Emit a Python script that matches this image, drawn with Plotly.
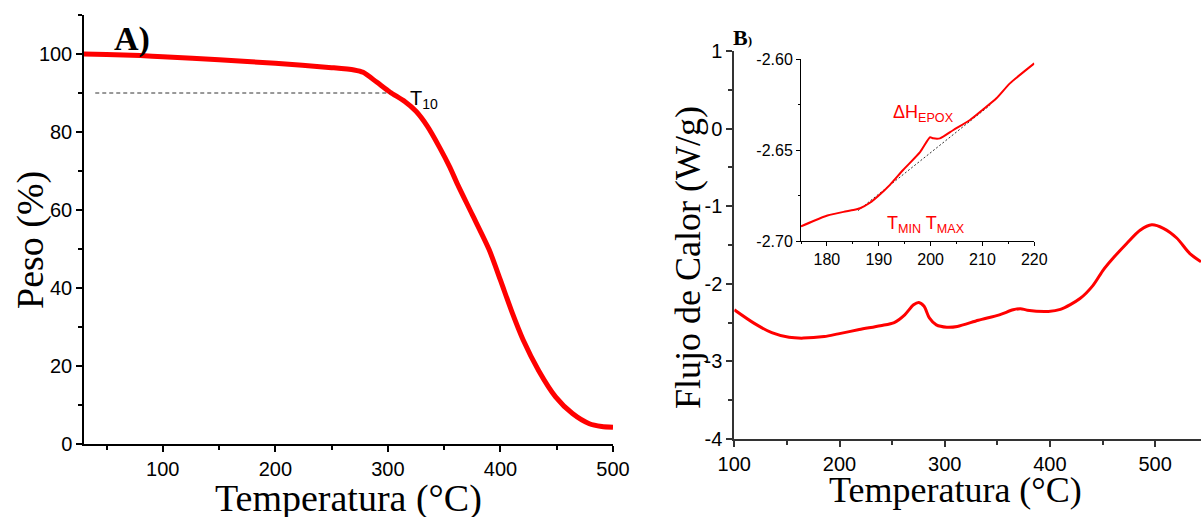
import plotly.graph_objects as go

# --- A) TGA: weight vs temperature
tga_temp = [30, 50, 80, 100, 150, 200, 250, 270, 278, 290, 302, 315, 325, 335,
            346, 355, 362, 375, 390, 400, 410, 420, 434, 449, 464, 479, 490, 500]
tga_peso = [100, 99.9, 99.6, 99.3, 98.5, 97.6, 96.5, 95.9, 95.3, 92.8, 90.2, 87.8,
            85.3, 81.5, 76.0, 71.0, 66.5, 58.8, 49.8, 42.0, 34.0, 26.8, 18.8, 12.1,
            7.8, 5.2, 4.5, 4.3]
t10_temp = [40, 302]
t10_peso = [90, 90]

# --- B) DSC: heat flow vs temperature
dsc_temp = [100, 119, 135.6, 152, 165.5, 185.5, 198.8, 218.8, 238.8, 252, 262,
            270.4, 275.4, 280.4, 285.4, 292, 302, 312, 332, 352, 365, 372, 378.5,
            398.5, 410, 428.6, 441, 450.8, 458.7, 473, 485.7, 496.8, 507.8, 520.5,
            533, 543.6]
dsc_flujo = [-2.335, -2.51, -2.63, -2.69, -2.70, -2.68, -2.645, -2.59, -2.54, -2.50,
             -2.40, -2.27, -2.24, -2.29, -2.44, -2.53, -2.56, -2.55, -2.47, -2.40,
             -2.335, -2.32, -2.34, -2.356, -2.33, -2.19, -2.02, -1.82, -1.69, -1.48,
             -1.31, -1.24, -1.285, -1.41, -1.61, -1.715]
dsc_yticks = [-4, -3, -2, -1, 0, 1]
dsc_yticktext = ["-4", "-3", "-2", "-1", "0", "1"]

# --- inset (zoom of the epoxy peak)
ins_temp = [175, 177.4, 180.1, 183.2, 185.1, 186.4, 188.3, 190, 192.2, 194.7, 198,
            199.9, 200.5, 201.8, 204.4, 207.6, 210, 212.7, 215.3, 220]
ins_flujo = [-2.692, -2.689, -2.686, -2.684, -2.683, -2.682, -2.679, -2.675, -2.669,
             -2.661, -2.651, -2.643, -2.6436, -2.6436, -2.639, -2.6335, -2.628,
             -2.6216, -2.6134, -2.6024]
base_temp = [186, 211.5]
base_flujo = [-2.6833, -2.6253]
ins_yticks = [-2.70, -2.65, -2.60]
ins_yticktext = ["-2.70", "-2.65", "-2.60"]

W, H = 1201, 517
SANS = "Liberation Sans, Arial"
SERIF = "Liberation Serif, Times New Roman"


def px_x(p):
    return p / W


def px_y(p):
    return (H - p) / H


fig = go.Figure()

fig.add_trace(go.Scatter(x=tga_temp, y=tga_peso, mode="lines", line_shape="spline",
                         line=dict(color="#ff0000", width=5, smoothing=0.7),
                         xaxis="x", yaxis="y"))
fig.add_trace(go.Scatter(x=t10_temp, y=t10_peso, mode="lines",
                         line=dict(color="#333333", width=1, dash="4px,3px"),
                         xaxis="x", yaxis="y"))

fig.add_trace(go.Scatter(x=dsc_temp, y=dsc_flujo, mode="lines", line_shape="spline",
                         line=dict(color="#ff0000", width=3, smoothing=0.8),
                         xaxis="x2", yaxis="y2"))

fig.add_trace(go.Scatter(x=base_temp, y=base_flujo, mode="lines",
                         line=dict(color="#333333", width=1, dash="2px,2px"),
                         xaxis="x3", yaxis="y3"))
fig.add_trace(go.Scatter(x=ins_temp, y=ins_flujo, mode="lines", line_shape="spline",
                         line=dict(color="#ff0000", width=2, smoothing=0.6),
                         xaxis="x3", yaxis="y3"))

axis_common = dict(showgrid=False, zeroline=False, showline=True, ticks="outside",
                   mirror=False, automargin=False)

fig.update_layout(
    width=W, height=H,
    margin=dict(l=0, r=0, t=0, b=0, autoexpand=False),
    paper_bgcolor="white", plot_bgcolor="rgba(0,0,0,0)",
    showlegend=False,
    xaxis=dict(axis_common, domain=[px_x(84), px_x(613)], anchor="y",
               range=[30, 500], tick0=0, dtick=100, linecolor="black", linewidth=1.5,
               tickcolor="black", ticklen=6, tickwidth=1.5,
               tickfont=dict(family=SANS, size=20, color="black"),
               minor=dict(dtick=50, tick0=0, ticks="outside", ticklen=4,
                          tickcolor="black", tickwidth=1.5)),
    yaxis=dict(axis_common, domain=[px_y(444), px_y(15)], anchor="x",
               range=[0, 110], tick0=0, dtick=20, linecolor="black", linewidth=1.5,
               tickcolor="black", ticklen=6, tickwidth=1.5,
               tickfont=dict(family=SANS, size=20, color="black"),
               minor=dict(dtick=10, tick0=0, ticks="outside", ticklen=4,
                          tickcolor="black", tickwidth=1.5)),
    xaxis2=dict(axis_common, domain=[px_x(734.3), 1.0], anchor="y2",
                range=[100, 543.6], tick0=0, dtick=100, linecolor="#333333",
                linewidth=2, tickcolor="#333333", ticklen=6, tickwidth=1.5,
                tickfont=dict(family=SANS, size=20, color="black"),
                minor=dict(dtick=50, tick0=0, ticks="outside", ticklen=4,
                           tickcolor="#333333", tickwidth=1.5)),
    yaxis2=dict(axis_common, domain=[px_y(439), px_y(51)], anchor="x2",
                range=[-4, 1], tickmode="array", tickvals=dsc_yticks,
                ticktext=dsc_yticktext, linecolor="#333333", linewidth=2,
                tickcolor="#333333", ticklen=6, tickwidth=1.5,
                tickfont=dict(family=SANS, size=20, color="black"),
                minor=dict(dtick=0.5, tick0=0, ticks="outside", ticklen=4,
                           tickcolor="#333333", tickwidth=1.5)),
    xaxis3=dict(axis_common, domain=[px_x(801), px_x(1034.3)], anchor="y3",
                range=[175, 220], tick0=0, dtick=10, linecolor="black", linewidth=1,
                tickcolor="black", ticklen=4, tickwidth=1,
                tickfont=dict(family=SANS, size=16, color="black"),
                minor=dict(dtick=5, tick0=0, ticks="outside", ticklen=2,
                           tickcolor="black", tickwidth=1)),
    yaxis3=dict(axis_common, domain=[px_y(241), px_y(59)], anchor="x3",
                range=[-2.70, -2.60], tickmode="array", tickvals=ins_yticks,
                ticktext=ins_yticktext, linecolor="black", linewidth=1,
                tickcolor="black", ticklen=4, tickwidth=1,
                tickfont=dict(family=SANS, size=16, color="black"),
                minor=dict(dtick=0.025, tick0=0, ticks="outside", ticklen=2,
                           tickcolor="black", tickwidth=1)),
)

annotations = [
    # panel A
    dict(text="<b>A)</b>", x=px_x(132), y=px_y(39),
         font=dict(family=SERIF, size=34, color="black")),
    dict(text="T<sub>10</sub>", x=px_x(408), y=px_y(99), xanchor="left",
         font=dict(family=SANS, size=20, color="black")),
    dict(text="Temperatura (°C)", x=px_x(348), y=px_y(498),
         font=dict(family=SERIF, size=38, color="black")),
    dict(text="Peso (%)", x=px_x(30), y=px_y(240), textangle=-90,
         font=dict(family=SERIF, size=38, color="black")),
    # panel B
    dict(text="<b>B</b><b><span style='font-size:13px'>)</span></b>",
         x=px_x(731), y=px_y(38), xanchor="left",
         font=dict(family=SERIF, size=22, color="black")),
    dict(text="Temperatura (°C)", x=px_x(955), y=px_y(490),
         font=dict(family=SERIF, size=36, color="black")),
    dict(text="Flujo de Calor (W/g)", x=px_x(688), y=px_y(258), textangle=-90,
         font=dict(family=SERIF, size=36, color="black")),
    dict(text="ΔH<sub>EPOX</sub>", x=px_x(891), y=px_y(113), xanchor="left",
         font=dict(family=SANS, size=18, color="#ff0000")),
    dict(text="T<sub>MIN</sub> T<sub>MAX</sub>", x=px_x(885), y=px_y(224),
         xanchor="left", font=dict(family=SANS, size=18, color="#ff0000")),
]
for a in annotations:
    a.setdefault("xanchor", "center")
    a.setdefault("yanchor", "middle")
    fig.add_annotation(xref="paper", yref="paper", showarrow=False, **a)

# page body has a default 8px margin; remove it so the figure sits at (0, 0)
fig.write_html("out.html", config={"displayModeBar": False},
               post_script="document.body.style.margin='0';"
                           "document.body.style.overflow='hidden';")
